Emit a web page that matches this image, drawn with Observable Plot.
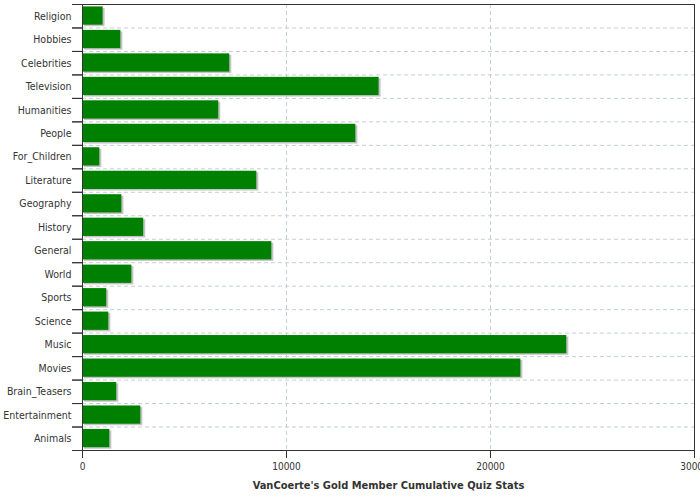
<!DOCTYPE html>
<html><head><meta charset="utf-8">
<script src="https://cdn.jsdelivr.net/npm/d3@7"></script>
<script src="https://cdn.jsdelivr.net/npm/@observablehq/plot@0.6"></script>
<style>body{margin:0;background:#fff}</style>
</head><body><div id="chart"></div>
<script>
const categories = ["Religion","Hobbies","Celebrities","Television","Humanities","People","For_Children","Literature","Geography","History","General","World","Sports","Science","Music","Movies","Brain_Teasers","Entertainment","Animals"];
const values = [1010,1880,7220,14540,6680,13400,850,8545,1930,3000,9280,2420,1190,1290,23740,21490,1680,2860,1340];
const xTicks = [0,10000,20000,30000];
const xTitle = "VanCoerte's Gold Member Cumulative Quiz Stats";

const data = categories.map((c,i)=>({category:c, value:values[i]}));
const W=700, H=500, mt=4, mb=50, ml=82, mr=6;
const step = (H-mt-mb)/categories.length;
const font = "'DejaVu Sans Condensed', 'DejaVu Sans', sans-serif";
const grid = {stroke:"#c6ced6", strokeOpacity:1, strokeDasharray:"4,3"};

const chart = Plot.plot({
  width: W, height: H, marginTop: mt, marginBottom: mb, marginLeft: ml, marginRight: mr,
  style: {fontFamily: font, fontSize: "10px", color: "#333", background: "#fff"},
  x: {domain: [0,30000]},
  y: {domain: categories, padding: 0, round: false},
  marks: [
    Plot.gridX(xTicks.slice(1,3), grid),
    Plot.ruleY(categories.slice(0,-1), {...grid, dy: step/2}),
    Plot.barX(data, {x:"value", y:"category", insetTop:2.4, insetBottom:2.8, fill:"#c4c4c4", dx:2, dy:1.5}),
    Plot.barX(data, {x:"value", y:"category", insetTop:2.4, insetBottom:2.8, fill:"#008000"}),
    Plot.frame({stroke:"#333"}),
    Plot.axisY({tickSize:0, tickPadding:11, fontSize:10.5, label:null}),
    Plot.axisY({tickSize:10, tickFormat:null, dy: step/2, stroke:"#333", label:null}),
    Plot.axisY({tickSize:10, tickFormat:null, dy: -step/2, stroke:"#333", label:null}),
    Plot.axisX(xTicks, {tickSize:8, tickPadding:4, tickFormat:d=>String(d), stroke:"#333", label:null}),
    Plot.text([xTitle], {frameAnchor:"bottom", dy:35, lineAnchor:"middle", fontWeight:"bold", fontSize:11, fill:"#333"})
  ]
});
document.getElementById("chart").appendChild(chart);
</script>
</body></html>
